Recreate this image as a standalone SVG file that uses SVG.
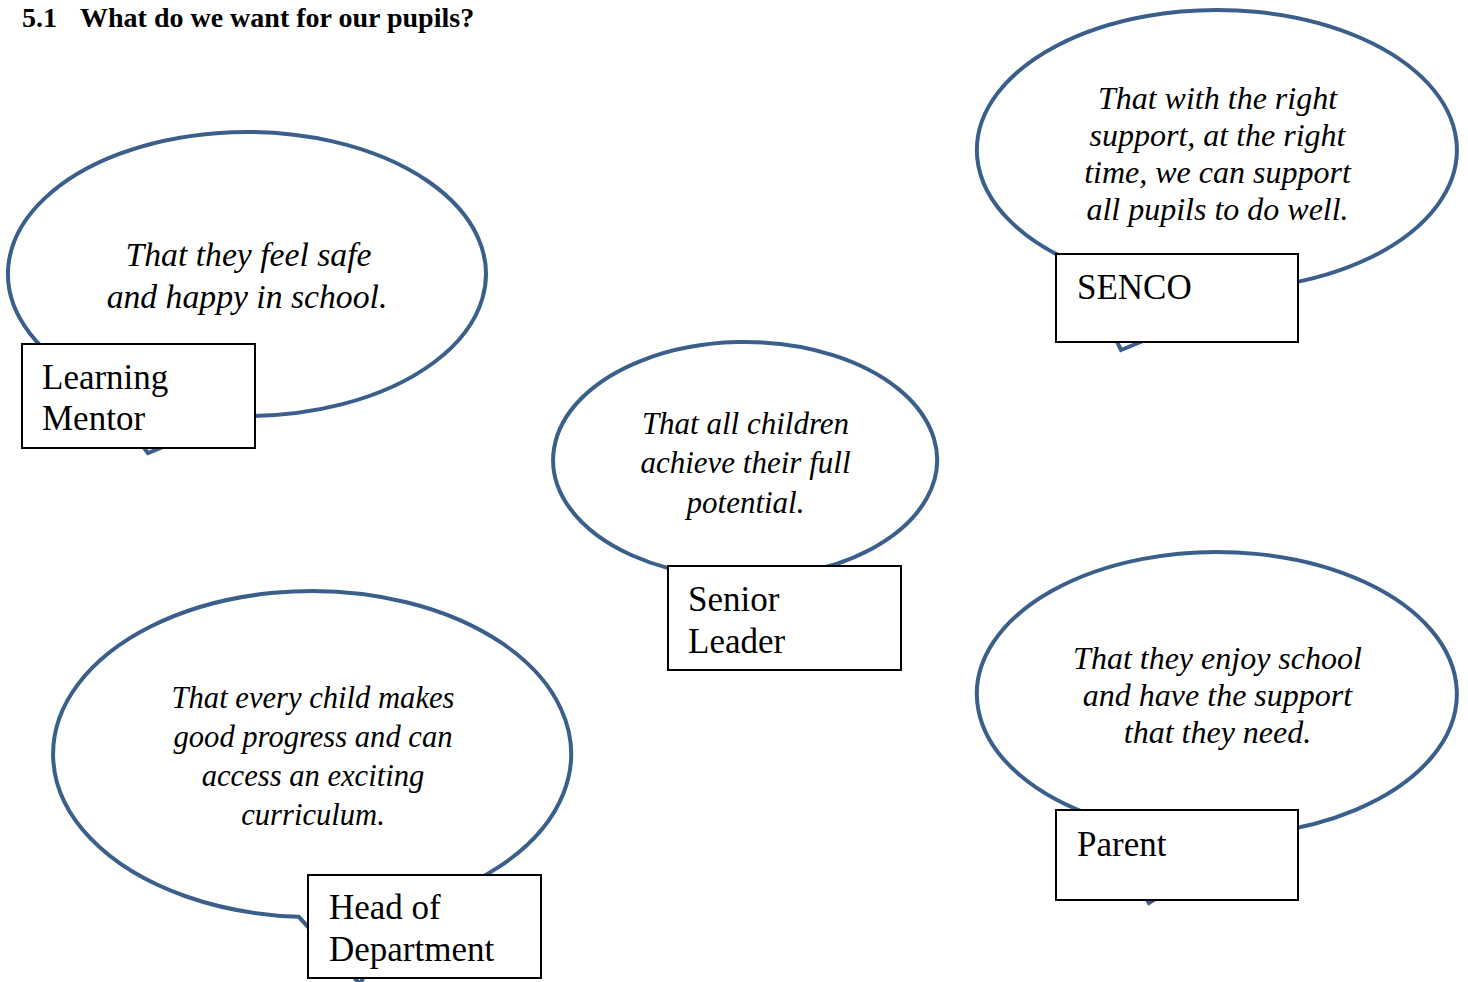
<svg xmlns="http://www.w3.org/2000/svg" width="1468" height="982" viewBox="0 0 1468 982">
<style>
.bub{fill:#fff;stroke:#3A5F8B;stroke-width:4;stroke-linejoin:miter}
.box{fill:#fff;stroke:#000;stroke-width:2}
.q{font-family:"Liberation Serif",serif;font-style:italic;font-size:32px;fill:#000;text-anchor:middle}
.lbl{font-family:"Liberation Serif",serif;font-size:35px;fill:#000}
.title{font-family:"Liberation Serif",serif;font-weight:bold;font-size:28px;fill:#000}
</style>
<rect width="1468" height="982" fill="#fff"/>
<g id="title">
<text class="title" x="22" y="27">5.1</text>
<text class="title" x="80" y="27">What do we want for our pupils?</text>
</g>
<g id="connectors"></g>
<g id="learning-mentor">
<path class="bub" d="M238.7,415.9 A239,142 0 1 0 93.4,382.8 L148,453 Z"/>
<text class="q" style="font-size:33.7px"><tspan x="248.5" y="266">That they feel safe</tspan><tspan x="247" y="308">and happy in school.</tspan></text>
<rect class="box" x="22" y="344" width="233" height="104"/>
<text class="lbl"><tspan x="42" y="389">Learning</tspan><tspan x="42" y="430">Mentor</tspan></text>
</g>
<g id="senco">
<path class="bub" d="M1279.1,285.2 A240,140 0 1 0 1079.3,264.7 L1121,350 Z"/>
<text class="q"><tspan x="1217.5" y="109">That with the right</tspan><tspan x="1217.5" y="146">support, at the right</tspan><tspan x="1217.5" y="183">time, we can support</tspan><tspan x="1217.5" y="220">all pupils to do well.</tspan></text>
<rect class="box" x="1056" y="254" width="242" height="88"/>
<text class="lbl" x="1077" y="299">SENCO</text>
</g>
<g id="senior-leader">
<path class="bub" d="M794.7,574 A192,118 0 1 0 711.7,576.2 L720,640 Z"/>
<text class="q" style="font-size:31px"><tspan x="745.5" y="434">That all children</tspan><tspan x="745.5" y="473">achieve their full</tspan><tspan x="745.5" y="513">potential.</tspan></text>
<rect class="box" x="668" y="566" width="233" height="104"/>
<text class="lbl"><tspan x="688" y="611">Senior</tspan><tspan x="688" y="653">Leader</tspan></text>
</g>
<g id="head-of-department">
<path class="bub" d="M400.6,907.2 A259,163 0 1 0 298.8,916.8 L360,984 Z"/>
<text class="q" style="font-size:30.6px"><tspan x="313" y="708">That every child makes</tspan><tspan x="313" y="747">good progress and can</tspan><tspan x="313" y="786">access an exciting</tspan><tspan x="313" y="825">curriculum.</tspan></text>
<rect class="box" x="308" y="875" width="233" height="103"/>
<text class="lbl"><tspan x="329" y="919">Head of</tspan><tspan x="329" y="961">Department</tspan></text>
</g>
<g id="parent">
<path class="bub" d="M1258.7,833.8 A240,142 0 1 0 1097,817 L1149,903 Z"/>
<text class="q"><tspan x="1217.5" y="669">That they enjoy school</tspan><tspan x="1217.5" y="706">and have the support</tspan><tspan x="1217.5" y="743">that they need.</tspan></text>
<rect class="box" x="1056" y="810" width="242" height="90"/>
<text class="lbl" x="1077" y="856">Parent</text>
</g>
</svg>
